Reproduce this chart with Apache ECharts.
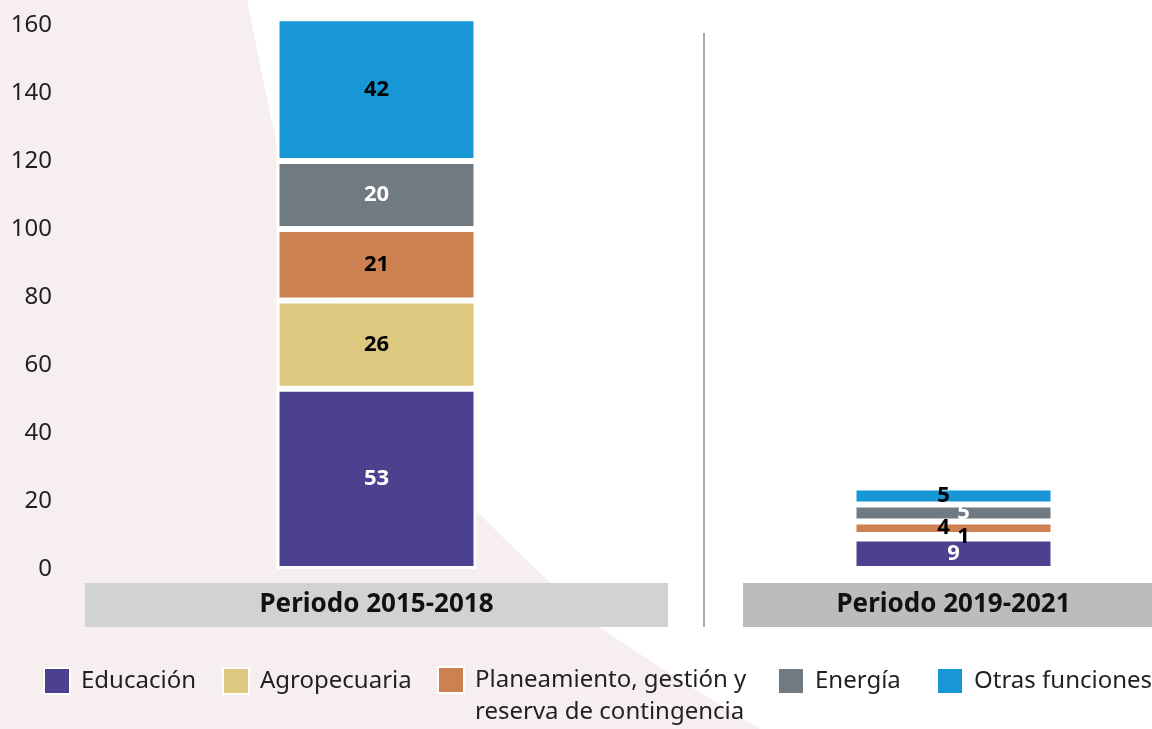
<!DOCTYPE html>
<html>
<head>
<meta charset="utf-8">
<script src="https://cdn.jsdelivr.net/npm/echarts@6/dist/echarts.min.js"></script>
<style>
  html, body { margin: 0; padding: 0; background: #fff; }
  #main { width: 1152px; height: 729px; }
</style>
</head>
<body>
<div id="main"></div>
<script>
const categories = ['Periodo 2015-2018', 'Periodo 2019-2021'];
const seriesNames = ['Educación', 'Agropecuaria', 'Planeamiento, gestión y reserva de contingencia', 'Energía', 'Otras funciones'];
const educacion = [53, 9];
const agropecuaria = [26, 1];
const planeamiento = [21, 4];
const energia = [20, 5];
const otras = [42, 5];
const yTicks = [0, 20, 40, 60, 80, 100, 120, 140, 160];

// estilo
const colors = ['#4b418f', '#dec77f', '#cd8050', '#6f7a83', '#1897d7'];
const labelColors = ['#fff', '#000', '#000', '#fff', '#000'];
// desplazamiento horizontal de etiquetas en la barra pequeña
const shift2 = [0, 10, -10, 10, -10];
const legendX = [43, 222, 437, 777, 936];

const values = [educacion, agropecuaria, planeamiento, energia, otras];
const font = 'Noto Sans';

const series = seriesNames.map((name, s) => ({
    name: name,
    type: 'bar',
    stack: 'total',
    barWidth: 200,
    clip: false,
    itemStyle: { color: colors[s], borderColor: '#fff', borderWidth: 3 },
    label: {
        show: true,
        position: 'inside',
        color: labelColors[s],
        fontFamily: font,
        fontWeight: 'bold',
        fontSize: 22
    },
    data: values[s].map((v, i) => i === 1
        ? { value: v, label: { offset: [shift2[s], 0] } }
        : v)
}));

// la leyenda larga va en dos líneas; la línea vacía inicial deja la primera alineada con el icono
const legends = seriesNames.map((name, s) => ({
    data: [name],
    left: legendX[s],
    top: s === 2 ? 632 : 667,
    padding: 0,
    itemWidth: 26,
    itemHeight: 26,
    icon: 'rect',
    selectedMode: false,
    formatter: s === 2 ? () => ' \nPlaneamiento, gestión y\nreserva de contingencia' : '{name}',
    textStyle: s === 2
        ? { fontFamily: font, fontSize: 24, color: '#231f20', lineHeight: 32, padding: [0, 0, 0, 6] }
        : { fontFamily: font, fontSize: 24, color: '#231f20', padding: [0, 0, 0, 6] }
}));

const chart = echarts.init(document.getElementById('main'));
chart.setOption({
    animation: false,
    backgroundColor: '#fff',
    graphic: [
        {
            type: 'polygon',
            z: -10,
            shape: {
                points: [[0, 0], [247, 0], [262, 75], [278, 150], [302, 222], [335, 297],
                    [385, 388], [430, 455], [475, 510], [547, 580], [600, 628], [680, 680], [760, 729], [0, 729]]
            },
            style: { fill: '#f7eef0' }
        },
        {
            type: 'line',
            z: -5,
            shape: { x1: 704, y1: 33, x2: 704, y2: 627 },
            style: { stroke: '#a7a9ac', lineWidth: 2 }
        }
    ],
    legend: legends,
    grid: { left: 88, top: 25, width: 1154, height: 544, containLabel: false, outerBoundsMode: 'none' },
    xAxis: {
        type: 'category',
        data: categories,
        axisLine: { show: false },
        axisTick: { show: false },
        axisLabel: {
            interval: 0,
            margin: 14,
            formatter: (v, i) => '{c' + i + '|' + v + '}',
            rich: {
                c0: { width: 583, height: 44, lineHeight: 44, align: 'center', backgroundColor: '#d1d2d4',
                    fontFamily: font, fontWeight: 'bold', fontSize: 26, color: '#111' },
                c1: { width: 421, height: 44, lineHeight: 44, align: 'center', backgroundColor: '#bbbcbe',
                    fontFamily: font, fontWeight: 'bold', fontSize: 26, color: '#111' }
            }
        }
    },
    yAxis: {
        type: 'value',
        min: yTicks[0],
        max: yTicks[yTicks.length - 1],
        interval: yTicks[1] - yTicks[0],
        axisLine: { show: false },
        axisTick: { show: false },
        splitLine: { show: false },
        axisLabel: { margin: 36, fontFamily: font, fontSize: 24, color: '#231f20' }
    },
    series: series
});
</script>
</body>
</html>
